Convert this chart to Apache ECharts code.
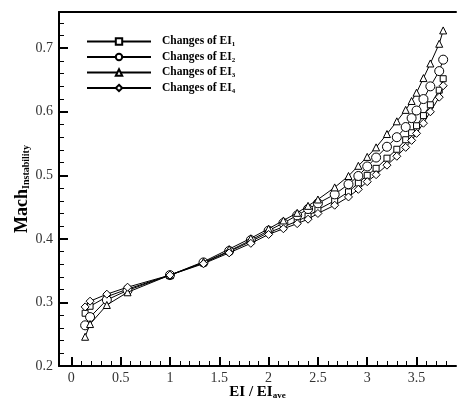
<!DOCTYPE html>
<html><head><meta charset="utf-8">
<script src="https://cdn.jsdelivr.net/npm/echarts@6/dist/echarts.min.js"></script>
<style>html,body{margin:0;padding:0;background:#fff}#c{width:457px;height:400px}</style>
</head><body><div id="c"></div>
<script>
var xVals = [0.14, 0.19, 0.36, 0.57, 1.0, 1.34, 1.6, 1.82, 2.0, 2.15, 2.29, 2.40, 2.50, 2.67, 2.81, 2.91, 3.0, 3.09, 3.20, 3.30, 3.39, 3.45, 3.50, 3.57, 3.64, 3.73, 3.77];
var ei1 = [0.283, 0.294, 0.309, 0.321, 0.343, 0.362, 0.380, 0.396, 0.410, 0.419, 0.428, 0.436, 0.446, 0.460, 0.474, 0.488, 0.500, 0.511, 0.527, 0.541, 0.556, 0.567, 0.578, 0.594, 0.611, 0.634, 0.652];
var ei2 = [0.264, 0.277, 0.304, 0.319, 0.343, 0.363, 0.381, 0.398, 0.413, 0.425, 0.437, 0.447, 0.456, 0.470, 0.486, 0.499, 0.514, 0.528, 0.545, 0.560, 0.576, 0.590, 0.602, 0.620, 0.640, 0.664, 0.682];
var ei3 = [0.246, 0.266, 0.296, 0.316, 0.343, 0.364, 0.384, 0.401, 0.416, 0.429, 0.441, 0.452, 0.462, 0.481, 0.499, 0.515, 0.529, 0.544, 0.565, 0.585, 0.603, 0.617, 0.630, 0.653, 0.676, 0.707, 0.728];
var ei4 = [0.293, 0.302, 0.313, 0.324, 0.343, 0.361, 0.378, 0.393, 0.407, 0.416, 0.424, 0.431, 0.440, 0.453, 0.466, 0.478, 0.490, 0.501, 0.516, 0.530, 0.544, 0.555, 0.566, 0.582, 0.600, 0.623, 0.641];
var seriesNames = ['EI1', 'EI2', 'EI3', 'EI4'];
var seriesSubs = ['1', '2', '3', '4'];
var xMajorTicks = [0, 0.5, 1, 1.5, 2, 2.5, 3, 3.5];
var xMinorTicks = [0, 0.1, 0.2, 0.3, 0.4, 0.5, 0.6, 0.7, 0.8, 0.9, 1, 1.1, 1.2, 1.3, 1.4, 1.5, 1.6, 1.7, 1.8, 1.9, 2, 2.1, 2.2, 2.3, 2.4, 2.5, 2.6, 2.7, 2.8, 2.9, 3, 3.1, 3.2, 3.3, 3.4, 3.5, 3.6, 3.7, 3.8];
var yMajorTicks = [0.2, 0.3, 0.4, 0.5, 0.6, 0.7];
var yMinorTicks = [0.22, 0.24, 0.26, 0.28, 0.32, 0.34, 0.36, 0.38, 0.42, 0.44, 0.46, 0.48, 0.52, 0.54, 0.56, 0.58, 0.62, 0.64, 0.66, 0.68, 0.72, 0.74];

var FONT = 'Liberation Serif';
var XMIN = -0.125, XMAX = 3.9, YMIN = 0.2, YMAX = 0.757;

function pairs(ys) { return xVals.map(function (x, i) { return [x, ys[i]]; }); }
var symbols = ['rect', 'circle', 'triangle', 'diamond'];
var sizes = [6, 9, 7, 8];
var datas = [ei1, ei2, ei3, ei4];

var chart = echarts.init(document.getElementById('c'), null, {renderer: 'canvas'});
var series = datas.map(function (d, i) {
  return {
    name: seriesNames[i], type: 'line', data: pairs(d),
    symbol: symbols[i], symbolSize: sizes[i], showSymbol: true,
    lineStyle: {color: '#000', width: 1},
    itemStyle: {color: '#fff', borderColor: '#000', borderWidth: 1},
    emphasis: {disabled: true}, animation: false, z: 5 + i
  };
});

chart.setOption({
  animation: false,
  grid: {left: 59, top: 12, right: 1, bottom: 34, containLabel: false, outerBoundsMode: 'none'},
  legend: {
    show: true, orient: 'vertical', left: 86, top: 35, padding: 0,
    itemWidth: 64, itemHeight: 8, itemGap: 2.5,
    data: seriesNames,
    formatter: function (n) { var i = seriesNames.indexOf(n); return '{a|Changes of EI}{s|' + seriesSubs[i] + '}'; },
    textStyle: {
      padding: [0, 0, 0, 6],
      rich: {
        a: {fontFamily: FONT, fontWeight: 'bold', fontSize: 11.5, color: '#000', lineHeight: 14},
        s: {fontFamily: FONT, fontWeight: 'bold', fontSize: 7, color: '#000', padding: [6, 0, 0, 0], lineHeight: 8}
      }
    }
  },
  xAxis: [
    {
      type: 'value', min: XMIN, max: XMAX, position: 'bottom',
      axisLine: {show: true, onZero: false, lineStyle: {color: '#000', width: 2}},
      axisTick: {show: true, inside: true, length: 9, lineStyle: {color: '#000', width: 2}, customValues: xMajorTicks},
      axisLabel: {show: true, customValues: xMajorTicks, margin: 5, fontFamily: FONT, fontSize: 14, color: '#333', formatter: function (v) { return String(+v.toFixed(1)); }},
      splitLine: {show: false},
      name: '{a|EI / EI}{s|ave}', nameLocation: 'middle', nameGap: 18, nameMoveOverlap: false,
      nameTextStyle: {rich: {
        a: {fontFamily: FONT, fontWeight: 'bold', fontSize: 15, color: '#000', lineHeight: 16},
        s: {fontFamily: FONT, fontWeight: 'bold', fontSize: 9, color: '#000', padding: [8, 0, 0, 0], lineHeight: 9}
      }}
    },
    {
      type: 'value', min: XMIN, max: XMAX, position: 'bottom', gridIndex: 0,
      axisLine: {show: false, onZero: false},
      axisTick: {show: true, inside: true, length: 5, lineStyle: {color: '#000', width: 1}, customValues: xMinorTicks},
      axisLabel: {show: false}, splitLine: {show: false}
    },
    {
      type: 'value', min: XMIN, max: XMAX, position: 'top', gridIndex: 0,
      axisLine: {show: true, onZero: false, lineStyle: {color: '#000', width: 2}},
      axisTick: {show: false}, axisLabel: {show: false}, splitLine: {show: false}
    }
  ],
  yAxis: [
    {
      type: 'value', min: YMIN, max: YMAX, position: 'left',
      axisLine: {show: true, onZero: false, lineStyle: {color: '#000', width: 2}},
      axisTick: {show: true, inside: true, length: 9, lineStyle: {color: '#000', width: 2}, customValues: yMajorTicks},
      axisLabel: {show: true, customValues: yMajorTicks, margin: 6, fontFamily: FONT, fontSize: 14, color: '#333', formatter: function (v) { return (+v).toFixed(1); }},
      splitLine: {show: false},
      name: '{a|Mach}{s|Instability}', nameLocation: 'middle', nameGap: 27, nameRotate: 90, nameMoveOverlap: false,
      nameTextStyle: {rich: {
        a: {fontFamily: FONT, fontWeight: 'bold', fontSize: 18, color: '#000', lineHeight: 19},
        s: {fontFamily: FONT, fontWeight: 'bold', fontSize: 10, color: '#000', padding: [8, 0, 0, 0], lineHeight: 10}
      }}
    },
    {
      type: 'value', min: YMIN, max: YMAX, position: 'left', gridIndex: 0,
      axisLine: {show: false, onZero: false},
      axisTick: {show: true, inside: true, length: 5, lineStyle: {color: '#000', width: 1}, customValues: yMinorTicks},
      axisLabel: {show: false}, splitLine: {show: false}
    }
  ],
  series: series
});
</script>
</body></html>
